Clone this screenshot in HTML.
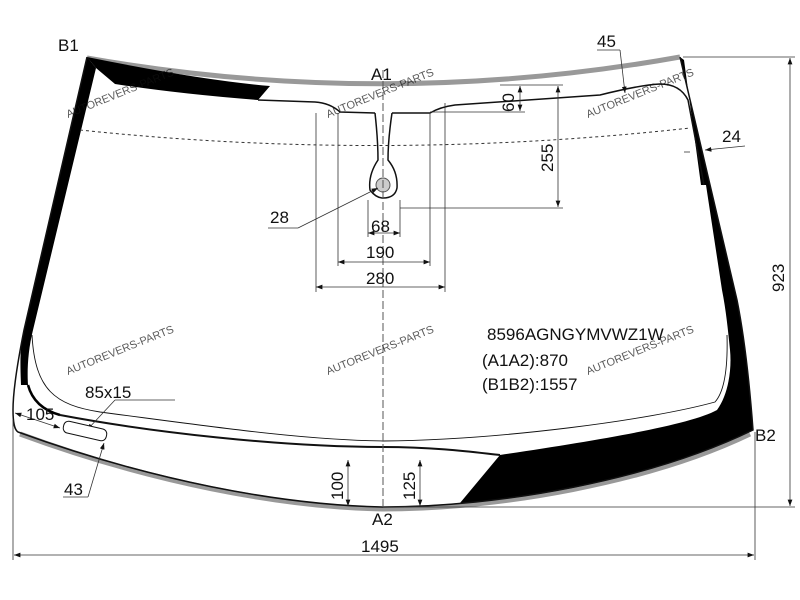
<!DOCTYPE html>
<html><head><meta charset="utf-8"><style>
html,body{margin:0;padding:0;background:#fff;width:800px;height:600px;overflow:hidden}
text{font-family:"Liberation Sans",sans-serif;fill:#111}
.w{fill:#5aa8d8;font-size:11px;opacity:.7}
</style></head><body>
<svg width="800" height="600" viewBox="0 0 800 600" xmlns="http://www.w3.org/2000/svg">
<defs><marker id="a" markerWidth="8" markerHeight="6" refX="8" refY="3" orient="auto-start-reverse"><path d="M0,0L8,3L0,6z" fill="#111"/></marker></defs>
<path d="M87,58 Q383,110 680,57" fill="none" stroke="#999" stroke-width="5"/>
<path d="M20,434 C150,482 280,507 383,509 C500,509 650,482 750,434" fill="none" stroke="#999" stroke-width="5"/>
<path d="M87,57 L96,68 L33,330 C28,350 27,370 28,385 L21,385 C20,360 20,345 24,330 Z" fill="#000"/>
<path d="M28,385 C32,400 42,410 60,415" fill="none" stroke="#000" stroke-width="2.5"/>
<path d="M87,57 Q200,80 270,86 L258,100 Q180,94 115,84 L96,68Z" fill="#000"/>
<path d="M680,57 L737,300 C745,340 750,390 753,430 C650,480 520,500 460,503 L500,455 C600,440 690,425 717,410 C728,395 732,370 730,350 C728,330 726,310 722,290 L706,185 L701,185 L684,60 Z" fill="#000"/>
<path d="M87,57 L24,330 C16,370 13,395 13,410 C13,425 15,430 18,432 C150,480 280,505 383,507 C500,507 650,480 753,430 C750,390 745,340 737,300 L680,57" fill="none" stroke="#111" stroke-width="1.5"/>
<path d="M258,100 L315,102 Q330,103 340,112 L375,113 M392,113 L430,113 Q440,107 455,105 L600,95 Q640,85 660,84 Q680,84 688,100 L704,185" fill="none" stroke="#111" stroke-width="1.5"/>
<path d="M32,335 C35,390 55,405 100,412 C200,425 300,440 383,441 C500,440 650,420 715,402 C724,392 728,370 727,335" fill="none" stroke="#111" stroke-width="0.9"/>
<path d="M60,415 C150,432 280,447 383,447 C440,447 480,453 500,455" fill="none" stroke="#111" stroke-width="2"/>
<path d="M375,113 Q378,140 378,160 Q368,175 370,190 Q376,198 383,198 Q395,198 397,188 Q398,172 388,160 Q388,140 392,113" fill="#fff" stroke="#111" stroke-width="1.5"/>
<circle cx="383" cy="185" r="7" fill="#ccc" stroke="#555"/>
<path d="M80,130 Q383,162 690,128" fill="none" stroke="#333" stroke-width="1" stroke-dasharray="3,3"/>
<line x1="383" y1="70" x2="383" y2="508" stroke="#555" stroke-width="1" stroke-dasharray="8,3"/>
<g stroke="#333" stroke-width="0.8" fill="none">
<line x1="316" y1="113" x2="316" y2="292"/><line x1="338" y1="113" x2="338" y2="266"/>
<line x1="430" y1="113" x2="430" y2="266"/><line x1="445" y1="103" x2="445" y2="292"/>
<line x1="368" y1="200" x2="368" y2="237"/><line x1="400" y1="200" x2="400" y2="237"/>
<line x1="368" y1="233" x2="400" y2="233" marker-start="url(#a)" marker-end="url(#a)"/>
<line x1="338" y1="262" x2="430" y2="262" marker-start="url(#a)" marker-end="url(#a)"/>
<line x1="316" y1="287" x2="445" y2="287" marker-start="url(#a)" marker-end="url(#a)"/>
<line x1="400" y1="208" x2="563" y2="208"/><line x1="430" y1="112" x2="525" y2="112"/><line x1="500" y1="85" x2="563" y2="85"/>
<line x1="520" y1="86" x2="520" y2="111" marker-start="url(#a)" marker-end="url(#a)"/>
<line x1="558" y1="86" x2="558" y2="207" marker-start="url(#a)" marker-end="url(#a)"/>
<line x1="268" y1="228" x2="298" y2="228"/><line x1="298" y1="228" x2="378" y2="188" marker-end="url(#a)"/>
<line x1="597" y1="50" x2="620" y2="50"/><line x1="620" y1="50" x2="625" y2="93" marker-end="url(#a)"/>
<line x1="745" y1="146" x2="705" y2="150" marker-end="url(#a)"/><line x1="684" y1="152" x2="690" y2="152"/>
<line x1="683" y1="57" x2="795" y2="57"/><line x1="383" y1="507" x2="795" y2="507"/>
<line x1="790" y1="58" x2="790" y2="506" marker-start="url(#a)" marker-end="url(#a)"/>
<line x1="13" y1="420" x2="13" y2="560"/><line x1="755" y1="432" x2="755" y2="560"/>
<line x1="14" y1="555" x2="754" y2="555" marker-start="url(#a)" marker-end="url(#a)"/>
<line x1="348" y1="460" x2="348" y2="506" marker-start="url(#a)" marker-end="url(#a)"/>
<line x1="420" y1="460" x2="420" y2="506" marker-start="url(#a)" marker-end="url(#a)"/>
<line x1="175" y1="400" x2="115" y2="400"/><line x1="115" y1="400" x2="87" y2="430" marker-end="url(#a)"/>
<line x1="63" y1="497" x2="88" y2="497"/><line x1="88" y1="497" x2="104" y2="443" marker-end="url(#a)"/>
<line x1="15" y1="413" x2="60" y2="428" marker-start="url(#a)" marker-end="url(#a)"/>
</g>
<rect x="63" y="425" width="44" height="12" rx="5" transform="rotate(13 85 431)" fill="#fff" stroke="#111"/>
<g font-size="17">
<text x="58" y="51">B1</text><text x="371" y="80">A1</text><text x="597" y="47">45</text>
<text x="722" y="142">24</text><text x="270" y="223">28</text><text x="371" y="232">68</text>
<text x="366" y="258">190</text><text x="366" y="284">280</text>
<text x="85" y="398">85x15</text><text x="26" y="420">105</text><text x="64" y="495">43</text>
<text x="372" y="525">A2</text><text x="361" y="552">1495</text><text x="755" y="441">B2</text>
<text x="487" y="340">8596AGNGYMVWZ1W</text><text x="482" y="366">(A1A2):870</text><text x="482" y="390">(B1B2):1557</text>
<text transform="translate(514,112) rotate(-90)">60</text>
<text transform="translate(553,172) rotate(-90)">255</text>
<text transform="translate(784,292) rotate(-90)">923</text>
<text transform="translate(343,500) rotate(-90)">100</text>
<text transform="translate(415,500) rotate(-90)">125</text>
</g>
<g class="w">
<text transform="translate(68,118) rotate(-22)">AUTOREVERS-PARTS</text>
<text transform="translate(328,118) rotate(-22)">AUTOREVERS-PARTS</text>
<text transform="translate(588,118) rotate(-22)">AUTOREVERS-PARTS</text>
<text transform="translate(68,375) rotate(-22)">AUTOREVERS-PARTS</text>
<text transform="translate(328,375) rotate(-22)">AUTOREVERS-PARTS</text>
<text transform="translate(588,375) rotate(-22)">AUTOREVERS-PARTS</text>
</g>
</svg>
</body></html>
